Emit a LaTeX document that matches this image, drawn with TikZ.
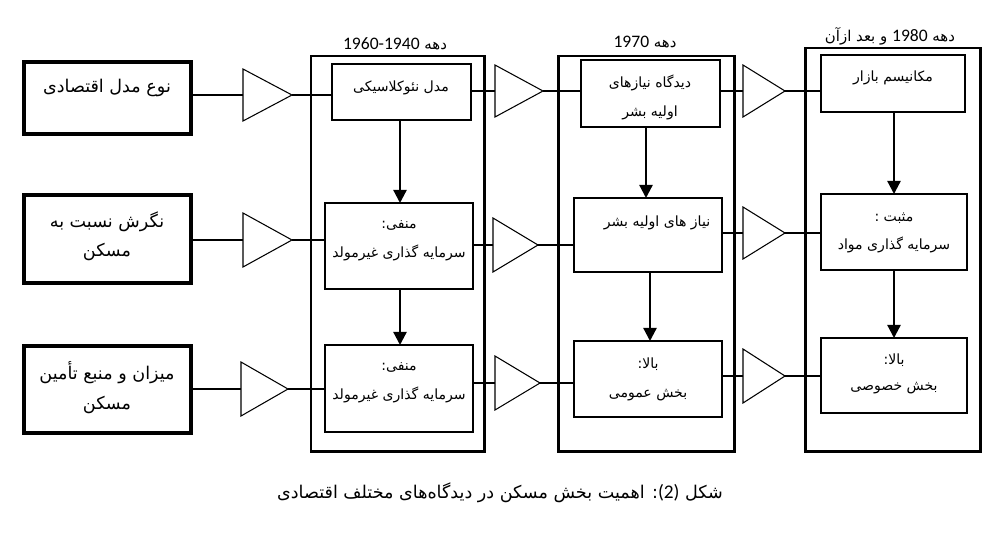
\documentclass[tikz,border=0pt]{standalone}
\usepackage{fontspec}
\usetikzlibrary{arrows.meta,fit}
\newfontfamily\fa[Script=Arabic]{DejaVu Sans}
\newfontfamily\lat{Carlito}
\TeXXeTstate=1
\begin{document}
\begin{tikzpicture}[x=0.02cm,y=-0.02cm,
  outerbox/.style={draw,line width=1.7pt,inner sep=0,outer sep=0},
  inbox/.style={draw,line width=0.8pt,inner sep=0,outer sep=0},
  lbox/.style={draw,line width=1.9pt,inner sep=0,outer sep=0},
  tri/.style={draw,line width=0.6pt,line join=miter},
  link/.style={line width=0.6pt},
  arr/.style={line width=1.3pt,-{Triangle[length=7.5pt,width=7.5pt]}},
  big/.style={font=\fa\fontsize{10}{12}\selectfont,inner sep=0},
  small/.style={font=\fa\fontsize{8}{10}\selectfont,inner sep=0},
  head/.style={font=\fa\fontsize{8.5}{10}\selectfont,inner sep=0},
  capt/.style={font=\fa\fontsize{10}{12}\selectfont,inner sep=0},
]
\path[fill=white] (0,0) rectangle (1000,538);
\useasboundingbox (0,0) rectangle (1000,538);

% left boxes
\node[lbox, fit={(24,62) (191,134)}] (L1) {};
\node[lbox, fit={(24,195) (191,283)}] (L2) {};
\node[lbox, fit={(24,346) (191,433)}] (L3) {};
\node[big] (L1t) at (107,88) {\beginR نوع مدل اقتصادی\endR};
\node[big] (L2t) at (107,222) {\beginR نگرش نسبت به\endR};
\node[big] (L2u) at (107,252) {\beginR مسکن\endR};
\node[big] (L3t) at (107,373) {\beginR میزان و منبع تأمین\endR};
\node[big] (L3u) at (107,405) {\beginR مسکن\endR};

% column outer boxes
\node[outerbox, fit={(311,56) (484,451)}] (C1) {};
\node[outerbox, fit={(558,56) (734,451)}] (C2) {};
\node[outerbox, fit={(805,48) (980,451)}] (C3) {};
\node[head] (H1) at (395,44) {\beginR دهه \beginL{\lat\fontsize{10}{12}\selectfont 1960-1940}\endL\endR};
\node[head] (H2) at (645,42) {\beginR دهه \beginL{\lat\fontsize{10}{12}\selectfont 1970}\endL\endR};
\node[head] (H3) at (890,36) {\beginR دهه \beginL{\lat\fontsize{10}{12}\selectfont 1980}\endL{} و بعد ازآن\endR};

% column 1 inner boxes
\node[inbox, fit={(332,64) (471,120)}] (B11) {};
\node[inbox, fit={(325,203) (473,289)}] (B12) {};
\node[inbox, fit={(325,345) (473,432)}] (B13) {};
\node[small] (B11t) at (401,88) {\beginR مدل نئوکلاسیکی\endR};
\node[small] (B12t) at (399,225) {\beginR منفی:\endR};
\node[small] (B12u) at (399,253) {\beginR سرمایه گذاری غیرمولد\endR};
\node[small] (B13t) at (399,367) {\beginR منفی:\endR};
\node[small] (B13u) at (399,395) {\beginR سرمایه گذاری غیرمولد\endR};

% column 2 inner boxes
\node[inbox, fit={(581,60) (720,127)}] (B21) {};
\node[inbox, fit={(574,198) (722,272)}] (B22) {};
\node[inbox, fit={(574,341) (722,417)}] (B23) {};
\node[small] (B21t) at (650,83) {\beginR دیدگاه نیازهای\endR};
\node[small] (B21u) at (650,113) {\beginR اولیه بشر\endR};
\node[small] (B22t) at (657,223) {\beginR نیاز های اولیه بشر\endR};
\node[small] (B23t) at (648,364) {\beginR بالا:\endR};
\node[small] (B23u) at (648,395) {\beginR بخش عمومی\endR};

% column 3 inner boxes
\node[inbox, fit={(821,55) (965,112)}] (B31) {};
\node[inbox, fit={(821,194) (967,270)}] (B32) {};
\node[inbox, fit={(821,338) (967,413)}] (B33) {};
\node[small] (B31t) at (893,78) {\beginR مکانیسم بازار\endR};
\node[small] (B32t) at (894,218) {\beginR مثبت :\endR};
\node[small] (B32u) at (894,245) {\beginR سرمایه گذاری مواد\endR};
\node[small] (B33t) at (894,360) {\beginR بالا:\endR};
\node[small] (B33u) at (894,388) {\beginR بخش خصوصی\endR};

% triangles
\draw[tri] (243,69) -- (292,95) -- (243,121) -- cycle;
\coordinate (T01i) at (243,95); \coordinate (T01o) at (292,95);
\draw[tri] (243,213) -- (292,240) -- (243,267) -- cycle;
\coordinate (T02i) at (243,240); \coordinate (T02o) at (292,240);
\draw[tri] (241,362) -- (288,389) -- (241,416) -- cycle;
\coordinate (T03i) at (241,389); \coordinate (T03o) at (288,389);

\draw[tri] (495,65) -- (543,91) -- (495,117) -- cycle;
\coordinate (T11i) at (495,91); \coordinate (T11o) at (543,91);
\draw[tri] (493,218) -- (538,245) -- (493,272) -- cycle;
\coordinate (T12i) at (493,245); \coordinate (T12o) at (538,245);
\draw[tri] (495,356) -- (540,383) -- (495,410) -- cycle;
\coordinate (T13i) at (495,383); \coordinate (T13o) at (540,383);

\draw[tri] (743,65) -- (785,91) -- (743,117) -- cycle;
\coordinate (T21i) at (743,91); \coordinate (T21o) at (785,91);
\draw[tri] (743,207) -- (785,233) -- (743,259) -- cycle;
\coordinate (T22i) at (743,233); \coordinate (T22o) at (785,233);
\draw[tri] (743,349) -- (785,376) -- (743,403) -- cycle;
\coordinate (T23i) at (743,376); \coordinate (T23o) at (785,376);

% links: left boxes -> triangles -> column 1
\draw[link] (L1.east |- T01i) -- (T01i);
\draw[link] (L2.east |- T02i) -- (T02i);
\draw[link] (L3.east |- T03i) -- (T03i);
\draw[link] (T01o) -- (T01o -| B11.west);
\draw[link] (T02o) -- (T02o -| B12.west);
\draw[link] (T03o) -- (T03o -| B13.west);

% column 1 -> triangles -> column 2
\draw[link] (B11.east |- T11i) -- (T11i);
\draw[link] (B12.east |- T12i) -- (T12i);
\draw[link] (B13.east |- T13i) -- (T13i);
\draw[link] (T11o) -- (T11o -| B21.west);
\draw[link] (T12o) -- (T12o -| B22.west);
\draw[link] (T13o) -- (T13o -| B23.west);

% column 2 -> triangles -> column 3
\draw[link] (B21.east |- T21i) -- (T21i);
\draw[link] (B22.east |- T22i) -- (T22i);
\draw[link] (B23.east |- T23i) -- (T23i);
\draw[link] (T21o) -- (T21o -| B31.west);
\draw[link] (T22o) -- (T22o -| B32.west);
\draw[link] (T23o) -- (T23o -| B33.west);

% vertical arrows
\coordinate (a1) at (400,0);
\draw[arr] (B11.south -| a1) -- (B12.north -| a1);
\draw[arr] (B12.south -| a1) -- (B13.north -| a1);
\coordinate (a2) at (646,0);
\coordinate (a2b) at (650,0);
\draw[arr] (B21.south -| a2) -- (B22.north -| a2);
\draw[arr] (B22.south -| a2b) -- (B23.north -| a2b);
\coordinate (a3) at (894,0);
\draw[arr] (B31.south -| a3) -- (B32.north -| a3);
\draw[arr] (B32.south -| a3) -- (B33.north -| a3);

% caption
\node[capt] (cap) at (500,493) {\beginR شکل \beginL{\lat\fontsize{11}{13}\selectfont (2)}\endL: اهمیت بخش مسکن در دیدگاه‌های مختلف اقتصادی\endR};
\end{tikzpicture}
\end{document}
